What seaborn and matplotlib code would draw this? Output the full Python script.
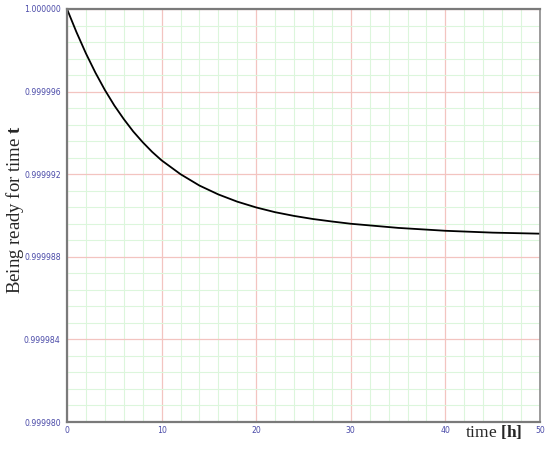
# Readiness curve: probability of being ready over time
import pandas as pd
import matplotlib.pyplot as plt
import seaborn as sns
from matplotlib.ticker import MultipleLocator, FormatStrFormatter

# values
time_h = [0, 1, 2, 3, 4, 5, 6, 7, 8, 9, 10, 12, 14, 16, 18, 20, 22, 24, 26, 28, 30, 35, 40, 45, 50]
ready = [1.0, 0.99999888, 0.99999785, 0.99999692, 0.99999608, 0.99999533, 0.99999467,
         0.99999407, 0.99999355, 0.99999308, 0.99999267, 0.99999200, 0.99999145,
         0.99999102, 0.99999067, 0.99999039, 0.99999016, 0.99998998, 0.99998983,
         0.99998971, 0.99998960, 0.99998940, 0.99998926, 0.99998917, 0.99998912]
x_ticks = [0, 10, 20, 30, 40, 50]
y_ticks = [0.99998, 0.999984, 0.999988, 0.999992, 0.999996, 1.0]

df = pd.DataFrame({'time': time_h, 'ready': ready})

sns.set_style('white')
plt.rcParams['font.family'] = ['DejaVu Sans']
plt.rcParams['mathtext.fontset'] = 'custom'
plt.rcParams['mathtext.rm'] = 'Liberation Serif'
plt.rcParams['mathtext.bf'] = 'Liberation Serif:bold'

fig = plt.figure(figsize=(5.5, 4.51), dpi=100)
ax = fig.add_axes([67 / 550, 29 / 451, 473 / 550, 413 / 451])

sns.lineplot(data=df, x='time', y='ready', color='black', linewidth=1.3, ax=ax)

ax.set_xlim(0, 50)
ax.set_ylim(0.99998, 1.0)
ax.set_xticks(x_ticks)
ax.set_yticks(y_ticks)
ax.xaxis.set_minor_locator(MultipleLocator(2))
ax.yaxis.set_minor_locator(MultipleLocator(0.0000008))
ax.yaxis.set_major_formatter(FormatStrFormatter('%.6f'))

ax.grid(True, which='minor', color='#dcf6dc', linewidth=0.8)
ax.grid(True, which='major', color='#f3c4c0', linewidth=0.9)
ax.set_axisbelow(True)

ax.tick_params(axis='both', which='major', labelsize=5.6, labelcolor='#4a4aa8',
               color='#808080', length=3, width=1, pad=1.5)
ax.tick_params(axis='x', which='major', length=0, pad=3)
ax.tick_params(which='minor', length=0)

for side in ['left', 'bottom', 'top']:
    ax.spines[side].set_color('#7a7a7a')
    ax.spines[side].set_linewidth(1.6)
ax.spines['right'].set_color('#8a8a8a')
ax.spines['right'].set_linewidth(1.2)

ax.set_xlabel('')
ax.set_ylabel('')
fig.text(15 / 550, 1 - 210 / 451, r'Being ready for time $\mathbf{t}$',
         family='Liberation Serif', rotation=90, ha='center', va='center', fontsize=13.5)
fig.text(465 / 550, 1 - 437 / 451, r'time $\mathbf{[h]}$',
         family='Liberation Serif', ha='left', va='baseline', fontsize=12.5)

plt.savefig('out.png', dpi=100)
